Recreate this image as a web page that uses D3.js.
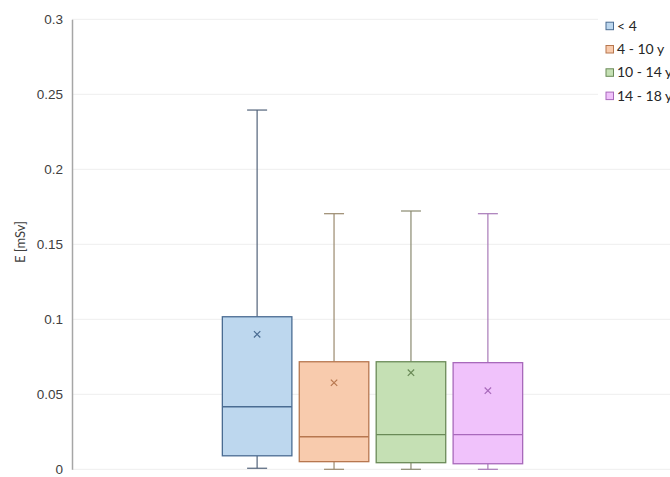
<!DOCTYPE html>
<html>
<head>
<meta charset="utf-8">
<script src="https://cdn.jsdelivr.net/npm/d3@7"></script>
<style>
  html, body { margin: 0; padding: 0; background: #fff; }
  svg { display: block; font-family: Lato, "Open Sans", "Liberation Sans", sans-serif; }
</style>
</head>
<body>
<svg id="chart" width="670" height="477"></svg>
<script>
// Age groups and five-number summaries of effective dose E (mSv)
const groups  = ["< 4", "4 - 10 y", "10 - 14 y", "14 - 18 y"];
const minVals = [0.0007, 0.0, 0.0, 0.0];
const q1Vals  = [0.0090, 0.0051, 0.0044, 0.0037];
const medVals = [0.0417, 0.0217, 0.0231, 0.0231];
const q3Vals  = [0.1017, 0.0717, 0.0717, 0.0711];
const maxVals = [0.2395, 0.1704, 0.1722, 0.1704];
const meanVals = [0.0900, 0.0577, 0.0644, 0.0524];
const yTicks  = [0, 0.05, 0.1, 0.15, 0.2, 0.25, 0.3];

const fills   = ["#bdd7ee", "#f8cbad", "#c5e0b4", "#f0c2fb"];
const strokes = ["#4a6c92", "#b7774f", "#6a8a57", "#a869bb"];
const whisk   = ["#52637a", "#9a8a6e", "#8a8a70", "#a87ab8"];

const svg = d3.select("#chart");
const plot = { left: 72, right: 673, top: 19.3, bottom: 469.3 };

const y = d3.scaleLinear().domain([0, 0.3]).range([plot.bottom, plot.top]);
const x = d3.scaleBand().domain(groups).range([218.65, 526.35])
  .paddingInner(0.096).paddingOuter(0.048);

// horizontal gridlines
svg.append("g").selectAll("line").data(yTicks).join("line")
  .attr("x1", plot.left).attr("x2", plot.right)
  .attr("y1", d => y(d)).attr("y2", d => y(d))
  .attr("stroke", "#eeeeee").attr("stroke-width", 1);

// y axis
const yAxis = d3.axisLeft(y).tickValues(yTicks).tickSize(0).tickPadding(9)
  .tickFormat(d => String(+d.toFixed(2)));
const ga = svg.append("g").attr("transform", `translate(${plot.left},0)`).call(yAxis);
ga.select(".domain").attr("stroke", "#a6a6a6").attr("stroke-width", 1.5);
ga.selectAll("text").attr("fill", "#404040").attr("font-size", 13.5);

svg.append("text")
  .attr("transform", `translate(20,242) rotate(-90)`)
  .attr("text-anchor", "middle").attr("dy", "0.35em")
  .attr("font-size", 13).attr("fill", "#404040")
  .text("E [mSv]");

// boxes
const data = groups.map((g, i) => ({
  g, i, min: minVals[i], q1: q1Vals[i], med: medVals[i], q3: q3Vals[i], max: maxVals[i], mean: meanVals[i]
}));

const bw = x.bandwidth();
const cap = 20;
const box = svg.append("g").selectAll("g").data(data).join("g");

// whiskers
box.append("line")
  .attr("x1", d => x(d.g) + bw / 2).attr("x2", d => x(d.g) + bw / 2)
  .attr("y1", d => y(d.q3)).attr("y2", d => y(d.max))
  .attr("stroke", d => whisk[d.i]).attr("stroke-width", 1.2);
box.append("line")
  .attr("x1", d => x(d.g) + bw / 2).attr("x2", d => x(d.g) + bw / 2)
  .attr("y1", d => y(d.q1)).attr("y2", d => y(d.min))
  .attr("stroke", d => whisk[d.i]).attr("stroke-width", 1.2);
box.append("line")
  .attr("x1", d => x(d.g) + bw / 2 - cap / 2).attr("x2", d => x(d.g) + bw / 2 + cap / 2)
  .attr("y1", d => y(d.max)).attr("y2", d => y(d.max))
  .attr("stroke", d => whisk[d.i]).attr("stroke-width", 1.2);
box.append("line")
  .attr("x1", d => x(d.g) + bw / 2 - cap / 2).attr("x2", d => x(d.g) + bw / 2 + cap / 2)
  .attr("y1", d => y(d.min)).attr("y2", d => y(d.min))
  .attr("stroke", d => whisk[d.i]).attr("stroke-width", 1.2);

// interquartile boxes
box.append("rect")
  .attr("x", d => x(d.g)).attr("width", bw)
  .attr("y", d => y(d.q3)).attr("height", d => y(d.q1) - y(d.q3))
  .attr("fill", d => fills[d.i]).attr("stroke", d => strokes[d.i]).attr("stroke-width", 1.3);

// medians
box.append("line")
  .attr("x1", d => x(d.g)).attr("x2", d => x(d.g) + bw)
  .attr("y1", d => y(d.med)).attr("y2", d => y(d.med))
  .attr("stroke", d => strokes[d.i]).attr("stroke-width", 1.3);

// mean markers
const m = 3.2;
box.append("path")
  .attr("transform", d => `translate(${x(d.g) + bw / 2},${y(d.mean)})`)
  .attr("d", `M${-m},${-m}L${m},${m}M${-m},${m}L${m},${-m}`)
  .attr("stroke", d => strokes[d.i]).attr("stroke-width", 1.2).attr("fill", "none");

// legend (white panel over the gridlines), running off the right edge
svg.append("rect").attr("x", 598).attr("y", 12).attr("width", 80).attr("height", 96)
  .attr("fill", "#fff");
const lg = svg.append("g").attr("transform", "translate(606,0)");
const items = lg.selectAll("g").data(groups).join("g")
  .attr("transform", (d, i) => `translate(0,${25.7 + i * 23.3})`);
items.append("rect").attr("x", 0).attr("y", -3.5).attr("width", 7.5).attr("height", 7.5)
  .attr("fill", (d, i) => fills[i]).attr("stroke", (d, i) => strokes[i]).attr("stroke-width", 1);
items.append("text").attr("x", 11).attr("y", 0).attr("dy", "0.35em")
  .attr("font-size", 14).attr("fill", "#262626").text(d => d);
</script>
</body>
</html>
